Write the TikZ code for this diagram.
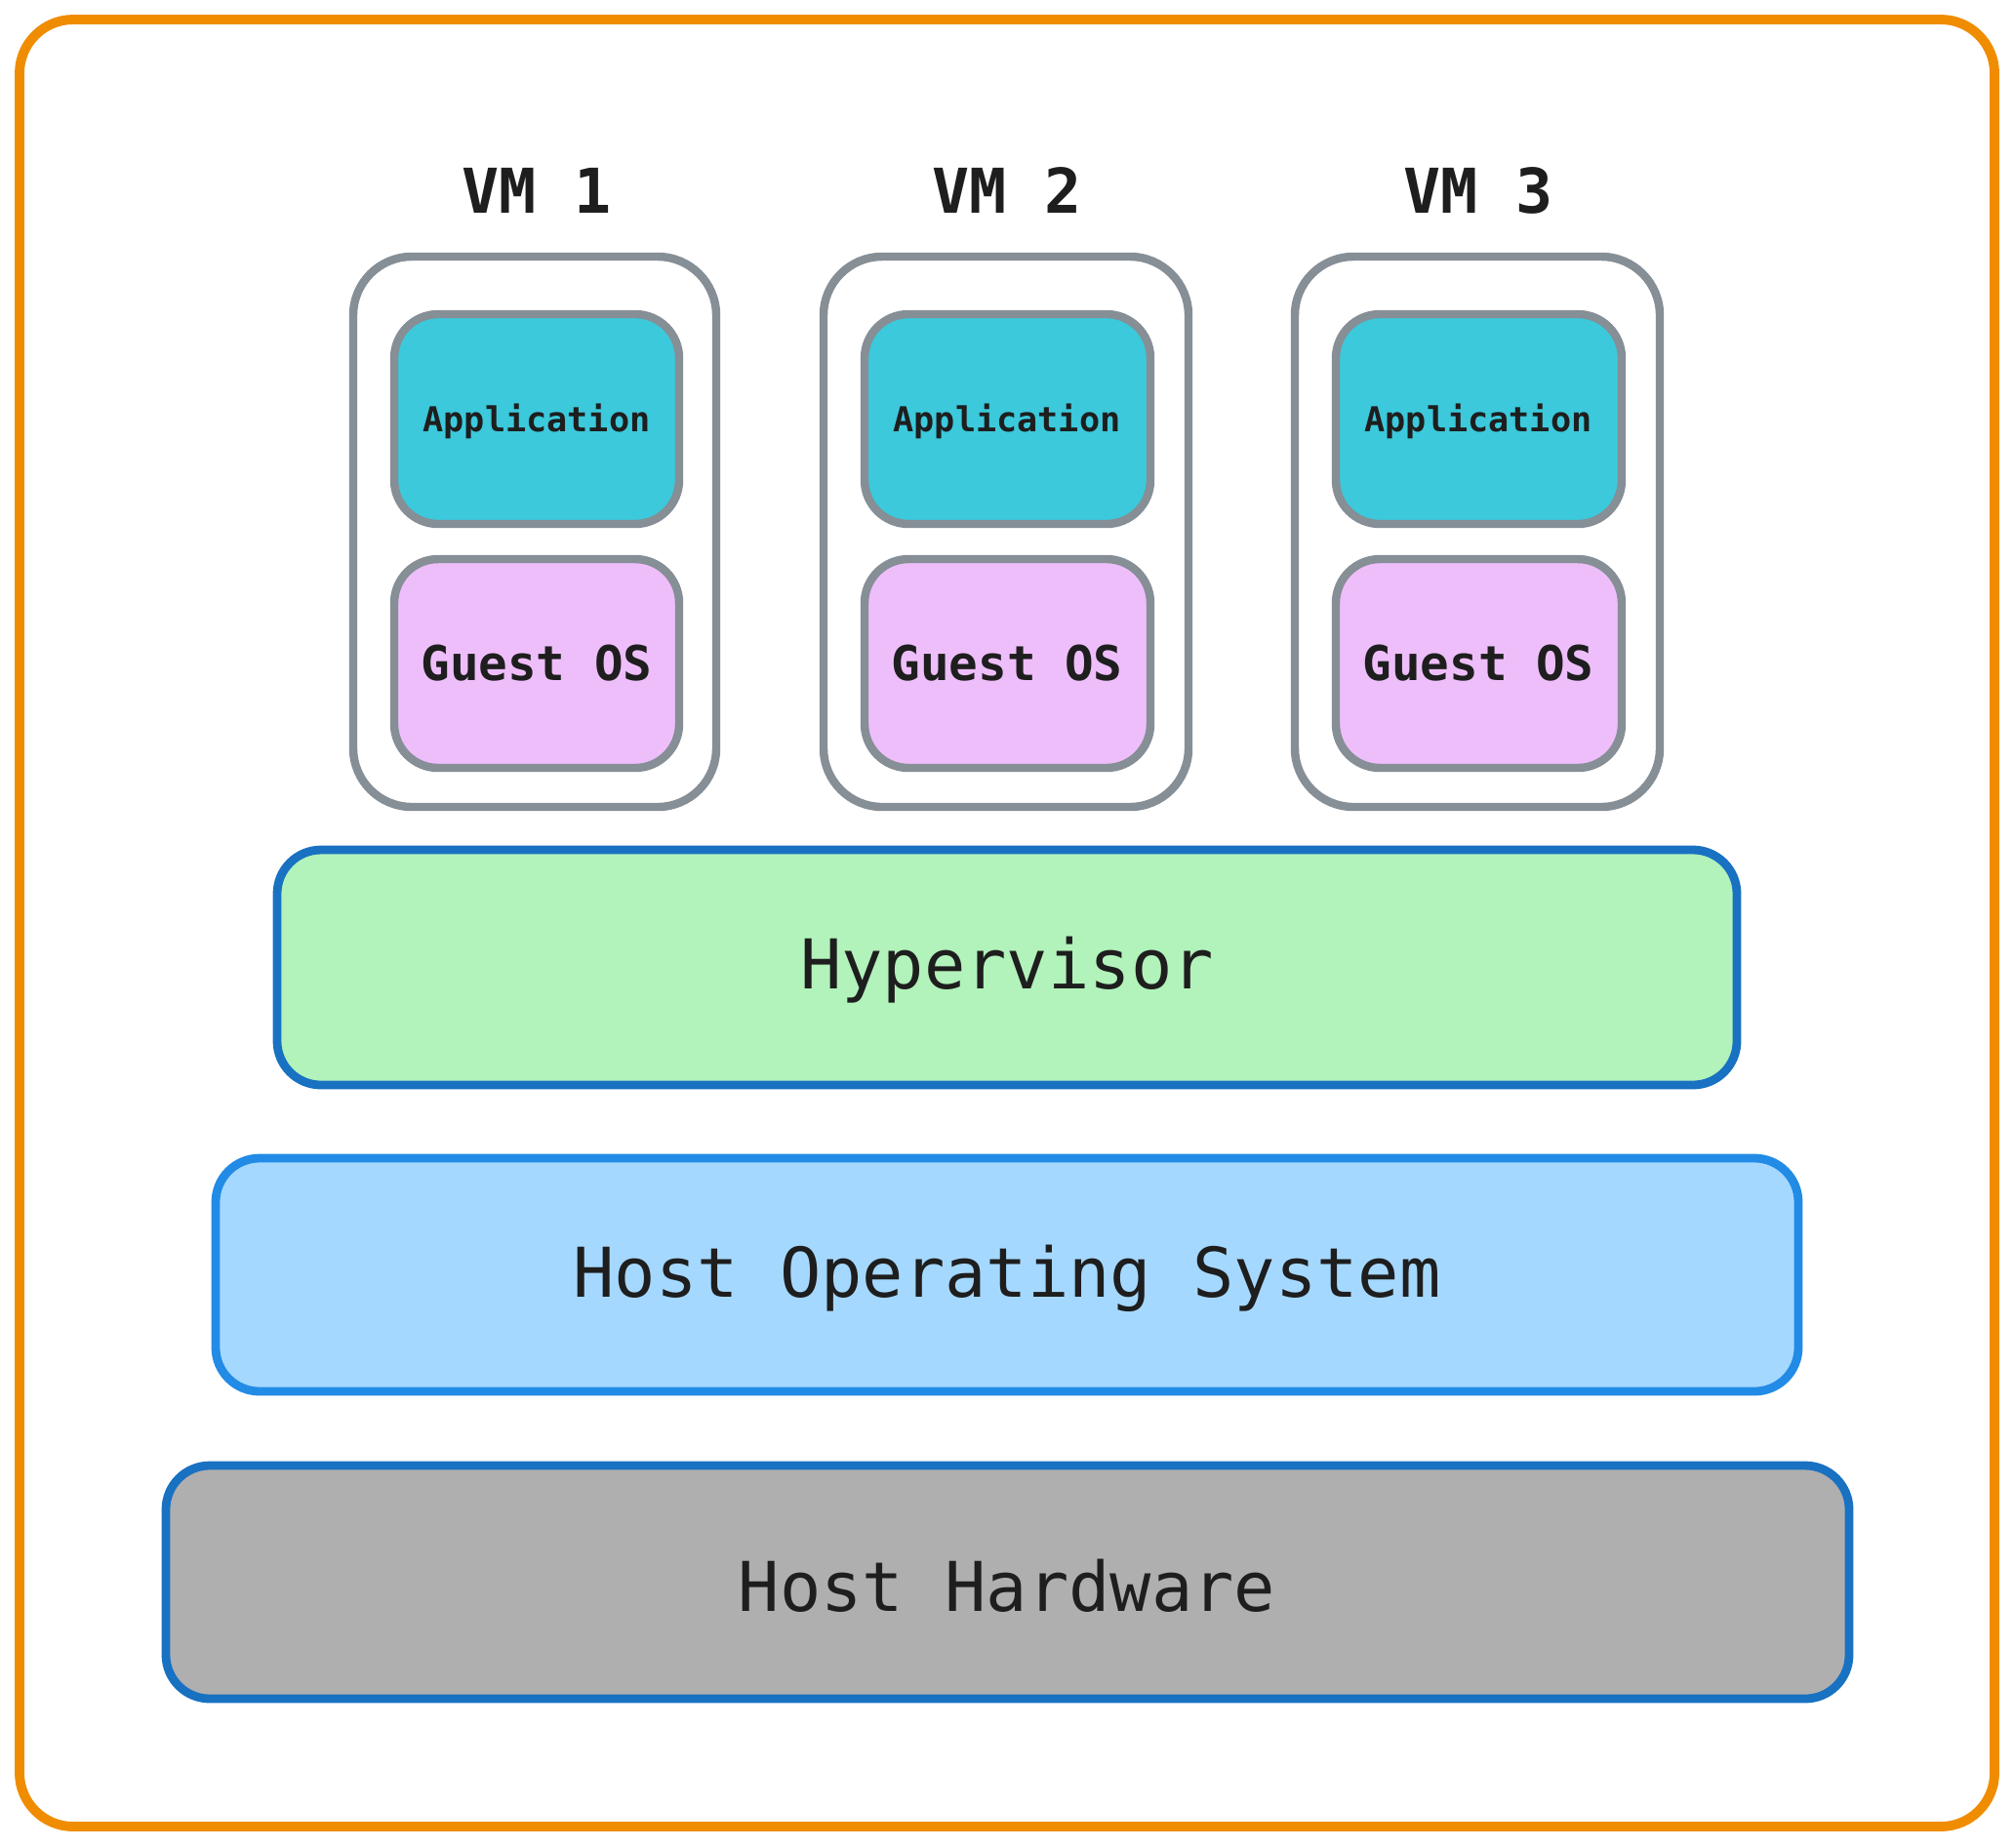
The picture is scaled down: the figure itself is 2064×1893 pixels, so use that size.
\documentclass[tikz,border=0pt]{standalone}
\usepackage{fontspec}
\setmonofont{DejaVu Sans Mono}
\usetikzlibrary{calc}

\definecolor{frameorange}{HTML}{F08C00}
\definecolor{vmgray}{HTML}{868E96}
\definecolor{appcyan}{HTML}{3BC9DB}
\definecolor{guestpink}{HTML}{EEBEFA}
\definecolor{hypgreen}{HTML}{B2F2BB}
\definecolor{darkblue}{HTML}{1971C2}
\definecolor{midblue}{HTML}{228BE6}
\definecolor{lightblue}{HTML}{A5D8FF}
\definecolor{hwgray}{HTML}{AFAFAF}
\definecolor{inkblack}{HTML}{1E1E1E}

\tikzset{
	vmline/.style={line width=2.4pt, draw=vmgray},
	layerline/.style={line width=2.5pt},
	vmtext/.style={font=\ttfamily\bfseries\fontsize{18}{20}\selectfont, text=inkblack},
	apptext/.style={font=\ttfamily\bfseries\fontsize{10}{12}\selectfont, text=inkblack},
	guesttext/.style={font=\ttfamily\bfseries\fontsize{14}{16}\selectfont, text=inkblack},
	layertext/.style={font=\ttfamily\fontsize{20}{22}\selectfont, text=inkblack}
}

\begin{document}
\begin{tikzpicture}[x=0.01cm,y=-0.01cm]

	\useasboundingbox (0,0) rectangle (2064,1893);

	%Frame
	\draw[line width=2.8pt, draw=frameorange, fill=white, rounded corners=0.55cm] (20,20) rectangle (2044,1872);

	%VM 1
	\node[vmtext] (vmlabel1) at (550,195) {VM 1};
	\draw[vmline, fill=white, rounded corners=0.6cm] (362,263) rectangle (734,827);
	\draw[vmline, fill=appcyan, rounded corners=0.45cm] (404,322) rectangle (696,537);
	\node[apptext] (app1) at (550,432) {Application};
	\draw[vmline, fill=guestpink, rounded corners=0.45cm] (404,573) rectangle (696,787);
	\node[guesttext] (guest1) at (550,680) {Guest OS};

	%VM 2
	\node[vmtext] (vmlabel2) at (1032,195) {VM 2};
	\draw[vmline, fill=white, rounded corners=0.6cm] (844,263) rectangle (1218,827);
	\draw[vmline, fill=appcyan, rounded corners=0.45cm] (886,322) rectangle (1179,537);
	\node[apptext] (app2) at (1032,432) {Application};
	\draw[vmline, fill=guestpink, rounded corners=0.45cm] (886,573) rectangle (1179,787);
	\node[guesttext] (guest2) at (1032,680) {Guest OS};

	%VM 3
	\node[vmtext] (vmlabel3) at (1515,195) {VM 3};
	\draw[vmline, fill=white, rounded corners=0.6cm] (1327,263) rectangle (1701,827);
	\draw[vmline, fill=appcyan, rounded corners=0.45cm] (1369,322) rectangle (1662,537);
	\node[apptext] (app3) at (1515,432) {Application};
	\draw[vmline, fill=guestpink, rounded corners=0.45cm] (1369,573) rectangle (1662,787);
	\node[guesttext] (guest3) at (1515,680) {Guest OS};

	%Hypervisor
	\draw[layerline, draw=darkblue, fill=hypgreen, rounded corners=0.45cm] (284,871) rectangle (1780,1112);
	\node[layertext] (hypervisor) at (1032,994) {Hypervisor};

	%Host OS
	\draw[layerline, draw=midblue, fill=lightblue, rounded corners=0.45cm] (221,1187) rectangle (1843,1426);
	\node[layertext] (hostos) at (1032,1310) {Host Operating System};

	%Host hardware
	\draw[layerline, draw=darkblue, fill=hwgray, rounded corners=0.45cm] (170,1502) rectangle (1895,1741);
	\node[layertext] (hosthw) at (1032,1625) {Host Hardware};

\end{tikzpicture}
\end{document}
